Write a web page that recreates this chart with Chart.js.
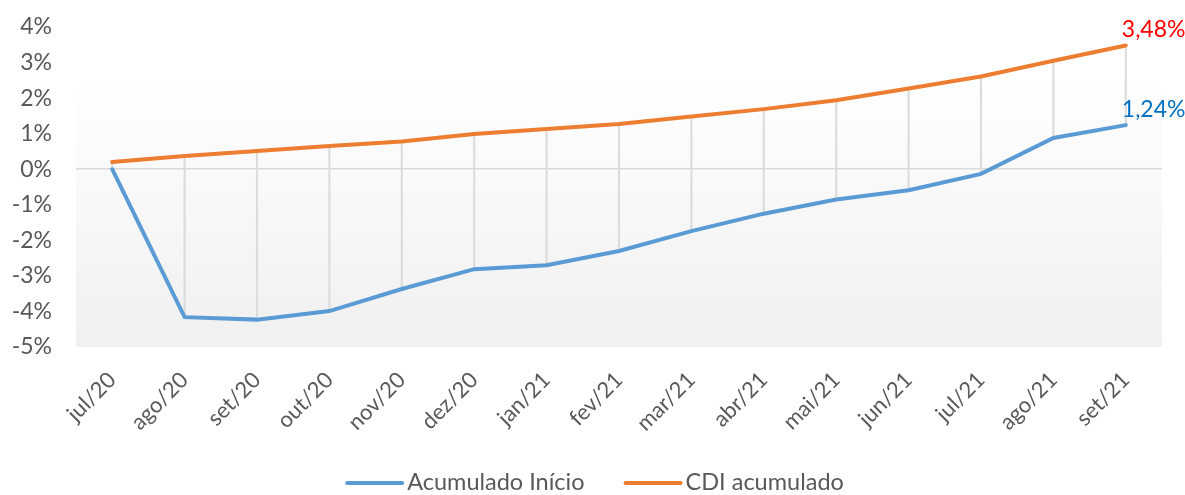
<!DOCTYPE html>
<html>
<head>
<meta charset="utf-8">
<script src="https://cdn.jsdelivr.net/npm/chart.js@4/dist/chart.umd.min.js"></script>
<style>
  html, body { margin: 0; padding: 0; background: #fff; }
  #wrap { width: 1185px; height: 495px; }
</style>
</head>
<body>
<div id="wrap"><canvas id="chart"></canvas></div>
<script>
// Data (values in %)
const months = ['jul/20', 'ago/20', 'set/20', 'out/20', 'nov/20', 'dez/20', 'jan/21', 'fev/21',
                'mar/21', 'abr/21', 'mai/21', 'jun/21', 'jul/21', 'ago/21', 'set/21'];
const acumuladoInicio = [0, -4.16, -4.23, -3.99, -3.37, -2.81, -2.70, -2.30, -1.74, -1.25, -0.85, -0.59, -0.13, 0.88, 1.24];
const cdiAcumulado = [0.20, 0.37, 0.51, 0.65, 0.78, 0.99, 1.13, 1.27, 1.48, 1.69, 1.94, 2.27, 2.61, 3.05, 3.48];
const yTicks = [-5, -4, -3, -2, -1, 0, 1, 2, 3, 4];

const FONT = 'Lato, Calibri, sans-serif';
const TEXT = '#595959';

// high-low lines between the two series
const highLow = months.map((m, i) => [acumuladoInicio[i], cdiAcumulado[i]]);

const fmt = v => v.toFixed(2).replace('.', ',') + '%';

// plot area gradient
const plotBg = {
  id: 'plotBg',
  beforeDraw(chart) {
    const { ctx, chartArea: a } = chart;
    const g = ctx.createLinearGradient(0, a.top, 0, a.bottom);
    g.addColorStop(0, '#ffffff');
    g.addColorStop(0.15, '#ffffff');
    g.addColorStop(1, '#f0f0f0');
    ctx.save();
    ctx.fillStyle = g;
    ctx.fillRect(a.left, a.top, a.right - a.left, a.bottom - a.top);
    ctx.restore();
  }
};

// last-point labels
const endLabels = {
  id: 'endLabels',
  afterDatasetsDraw(chart) {
    const { ctx } = chart;
    const items = [
      { ds: 0, color: '#0070c0', data: acumuladoInicio },
      { ds: 1, color: '#ff0000', data: cdiAcumulado }
    ];
    ctx.save();
    ctx.font = '23px ' + FONT;
    ctx.textAlign = 'left';
    ctx.textBaseline = 'middle';
    items.forEach(it => {
      const pts = chart.getDatasetMeta(it.ds).data;
      const p = pts[pts.length - 1];
      ctx.fillStyle = it.color;
      ctx.fillText(fmt(it.data[it.data.length - 1]), p.x - 4, p.y - 16);
    });
    ctx.restore();
  }
};

// legend drawn by hand, Excel style (line sample, small gap, text)
const bottomLegend = {
  id: 'bottomLegend',
  afterDraw(chart) {
    const { ctx, width } = chart;
    const sets = chart.data.datasets.filter(d => d.type === 'line');
    const lineW = 59, gapText = 3, gapItem = 39, y = 482;
    ctx.save();
    ctx.font = '23.5px ' + FONT;
    ctx.textBaseline = 'middle';
    const widths = sets.map(d => lineW + gapText + ctx.measureText(d.label).width);
    const total = widths.reduce((a, b) => a + b, 0) + gapItem * (sets.length - 1);
    let x = (width - total) / 2 + 2;
    sets.forEach((d, i) => {
      ctx.strokeStyle = d.borderColor;
      ctx.lineWidth = 4;
      ctx.lineCap = 'round';
      ctx.beginPath();
      ctx.moveTo(x + 2, y + 1);
      ctx.lineTo(x + lineW - 2, y + 1);
      ctx.stroke();
      ctx.fillStyle = TEXT;
      ctx.fillText(d.label, x + lineW + gapText, y);
      x += widths[i] + gapItem;
    });
    ctx.restore();
  }
};

new Chart(document.getElementById('chart'), {
  data: {
    labels: months,
    datasets: [
      {
        type: 'line',
        label: 'Acumulado Início',
        data: acumuladoInicio,
        borderColor: '#5b9bd5',
        backgroundColor: '#5b9bd5',
        borderWidth: 4,
        pointRadius: 0,
        tension: 0,
        borderCapStyle: 'round',
        order: 1
      },
      {
        type: 'line',
        label: 'CDI acumulado',
        data: cdiAcumulado,
        borderColor: '#ed7d31',
        backgroundColor: '#ed7d31',
        borderWidth: 4,
        pointRadius: 0,
        tension: 0,
        borderCapStyle: 'round',
        order: 2
      },
      {
        type: 'bar',
        label: 'hl',
        data: highLow,
        backgroundColor: '#dcdcdc',
        barThickness: 1.5,
        borderWidth: 0,
        order: 3
      }
    ]
  },
  options: {
    responsive: true,
    maintainAspectRatio: false,
    animation: false,
    layout: { padding: { top: 27, right: 23, bottom: 0, left: 0 } },
    plugins: {
      legend: { display: false },
      tooltip: { enabled: false }
    },
    scales: {
      x: {
        offset: true,
        grid: { display: false },
        border: { display: false },
        ticks: {
          color: TEXT,
          font: { family: FONT, size: 22 },
          minRotation: 45,
          maxRotation: 45,
          padding: 12
        },
        afterFit(scale) { scale.height = 148; }
      },
      y: {
        min: -5,
        max: 4,
        afterBuildTicks(scale) { scale.ticks = yTicks.map(v => ({ value: v })); },
        grid: {
          drawTicks: false,
          color: c => (c.tick && c.tick.value === 0) ? '#d9d9d9' : 'rgba(0,0,0,0)',
          lineWidth: 1.5
        },
        border: { display: false },
        ticks: {
          color: TEXT,
          font: { family: FONT, size: 23 },
          padding: 24,
          callback: v => v + '%'
        },
        afterFit(scale) {
          scale.width = 76;
          scale.paddingTop = 12;
          scale.paddingBottom = 12;
        }
      }
    }
  },
  plugins: [plotBg, endLabels, bottomLegend]
});
</script>
</body>
</html>
